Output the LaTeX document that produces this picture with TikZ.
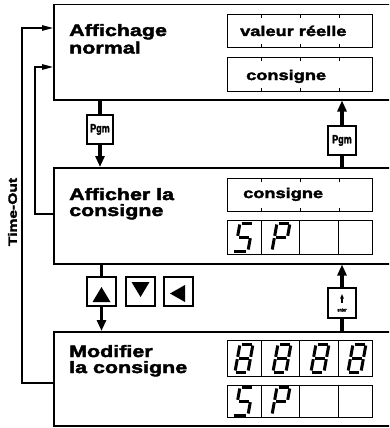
\documentclass[tikz,border=0pt]{standalone}
\usepackage{fontspec}
\setmainfont{Liberation Sans}
\newfontfamily\headfont[FakeStretch=1.3,FakeBold=2.5]{Liberation Sans}
\newfontfamily\condfont[FakeStretch=0.75,FakeBold=1.8]{Liberation Sans}
\usetikzlibrary{arrows.meta}
\def\DigEight{-5/-14/5/-14, 6.5/-12.5/6.5/-1.2, 6.5/1.2/6.5/12.5, -5/14/5/14, -6.5/1.2/-6.5/12.5, -6.5/-12.5/-6.5/-1.2, -5/0/5/0}
\def\DigS{-5/-14/5/-14, -6.5/-12.5/-6.5/-1.2, -5/0/5/0, 6.5/1.2/6.5/12.5, -7/14/5/14}
\def\DigP{-5/-14/5/-14, 6.5/-12.5/6.5/-1.2, -6.5/-12.5/-6.5/-1.2, -5/0/5/0, -6.5/1.2/-6.5/12.5}
\newcommand\segdigit[3]{\begin{scope}[shift={(#1,#2)},xslant=0.18]
\foreach \xa/\ya/\xb/\yb in #3 {\draw[seg] (\xa,\ya) -- (\xb,\yb);}
\end{scope}}
\begin{document}
\begin{tikzpicture}[x=1pt,y=-1pt,
 big/.style={draw, line width=1.5pt, minimum width=345pt, anchor=north west, inner sep=0pt},
 disp/.style={draw, line width=1.3pt, minimum width=145pt, anchor=north west, inner sep=0pt},
 keybox/.style={draw, line width=1.3pt, inner sep=0pt, minimum width=28pt, minimum height=29pt},
 stem/.style={line width=3.8pt},
 stemarrow/.style={line width=3.8pt, -{Triangle[length=11pt,width=9pt]}},
 thinarrow/.style={line width=1.3pt, -{Triangle[length=11pt,width=5.5pt]}},
 head/.style={anchor=base west, inner sep=0pt, font=\headfont\bfseries\fontsize{16.5}{16.5}\selectfont},
 dtext/.style={anchor=base west, inner sep=0pt, font=\headfont\bfseries\fontsize{14}{14}\selectfont},
 pgmtext/.style={font=\condfont\bfseries\fontsize{12}{12}\selectfont},
 seg/.style={line width=3pt}
]
\useasboundingbox (0,0) rectangle (389,428);
\clip (0,0) rectangle (389,428);
% main boxes
\node[big, minimum height=95pt] (b1) at (53,4) {};
\node[big, minimum height=96pt] (b2) at (53,167) {};
\node[big, minimum height=94pt] (b3) at (53,331) {};
% headings
\node[head] (h1a) at (69,36) {Affichage};
\node[head] (h1b) at (69,53.5) {normal};
\node[head] (h2a) at (69,200) {Afficher la};
\node[head] (h2b) at (69,216) {consigne};
\node[head] (h3a) at (69,357) {Modifier};
\node[head] (h3b) at (69,373) {la consigne};
% displays
\node[disp, minimum height=33pt] (d1a) at (227,14) {};
\node[disp, minimum height=34pt] (d1b) at (227,57) {};
\node[disp, minimum height=33pt] (d2a) at (227,178) {};
\node[disp, minimum height=34pt] (d2b) at (227,220) {};
\node[disp, minimum height=36pt] (d3a) at (227,340) {};
\node[disp, minimum height=32pt] (d3b) at (227,385) {};
\foreach \d in {d1a,d1b,d2a} \foreach \x in {261,300,339} {
  \draw[line width=0.8pt] (\x,0 |- \d.north) -- ++(0,4);
  \draw[line width=0.8pt] (\x,0 |- \d.south) -- ++(0,-4);}
\foreach \d in {d2b,d3a,d3b} \foreach \x in {261,299,338} {
  \draw[line width=0.8pt] (\x,0 |- \d.north) -- (\x,0 |- \d.south);}
\node[dtext] (t1a) at (240,36) {valeur réelle};
\node[dtext] (t1b) at (246,80) {consigne};
\node[dtext] (t2a) at (243,198) {consigne};
% seven segment digits
\segdigit{244}{237}{\DigS}
\segdigit{281}{237}{\DigP}
\segdigit{244}{358}{\DigEight}
\segdigit{282}{358}{\DigEight}
\segdigit{320}{358}{\DigEight}
\segdigit{357}{358}{\DigEight}
\segdigit{244}{401}{\DigS}
\segdigit{281}{401}{\DigP}
% key boxes
\node[keybox, minimum width=26pt, pgmtext] (p1) at (100,129.5) {Pgm};
\node[keybox, pgmtext] (p2) at (342,140.5) {Pgm};
\node[keybox, minimum height=30pt] (ke) at (342,303) {};
\node[keybox, minimum width=29pt] (kup) at (101.5,291.5) {};
\node[keybox, minimum width=29pt] (kdn) at (140.5,291.5) {};
\node[keybox, minimum width=29pt] (klt) at (178.5,291.5) {};
\fill[shift={(kup.center)}] (-9,10.5) -- (9,10.5) -- (0,-4.5) -- cycle;
\fill[shift={(kdn.center)}] (-9,-9.5) -- (9,-9.5) -- (0,5.5) -- cycle;
\fill[shift={(klt.center)}] (6.5,-6.5) -- (6.5,10.5) -- (-8.5,2) -- cycle;
\draw[line width=1.2pt, -{Triangle[length=4.5pt,width=3.5pt]}] ([yshift=0pt]ke.center) -- ([yshift=9pt]ke.center);
\node[font=\condfont\bfseries\fontsize{5}{5}\selectfont, inner sep=0pt] (ket) at (342,310) {enter};
% connectors
\draw[stem] (p1.north) -- (p1.north |- b1.south);
\draw[stemarrow] (p1.south) -- (p1.south |- b2.north);
\draw[stem] (p2.south) -- (p2.south |- b2.north);
\draw[stemarrow] (p2.north) -- (p2.north |- b1.south);
\draw[stem] (kup.north) -- (kup.north |- b2.south);
\draw[stemarrow] (kup.south) -- (kup.south |- b3.north);
\draw[stem] (ke.south) -- (ke.south |- b3.north);
\draw[stemarrow] (ke.north) -- (ke.north |- b2.south);
% time-out loops
\draw[thinarrow] (b3.west |- 0,383) -- (22,383) -- (22,28) -- (b1.west |- 0,28);
\draw[thinarrow] (b2.west |- 0,214) -- (35,214) -- (35,67) -- (b1.west |- 0,67);
\node[rotate=90, inner sep=0pt, font=\headfont\bfseries\fontsize{12}{12}\selectfont] (to) at (12.5,212) {Time-Out};
\end{tikzpicture}
\end{document}
